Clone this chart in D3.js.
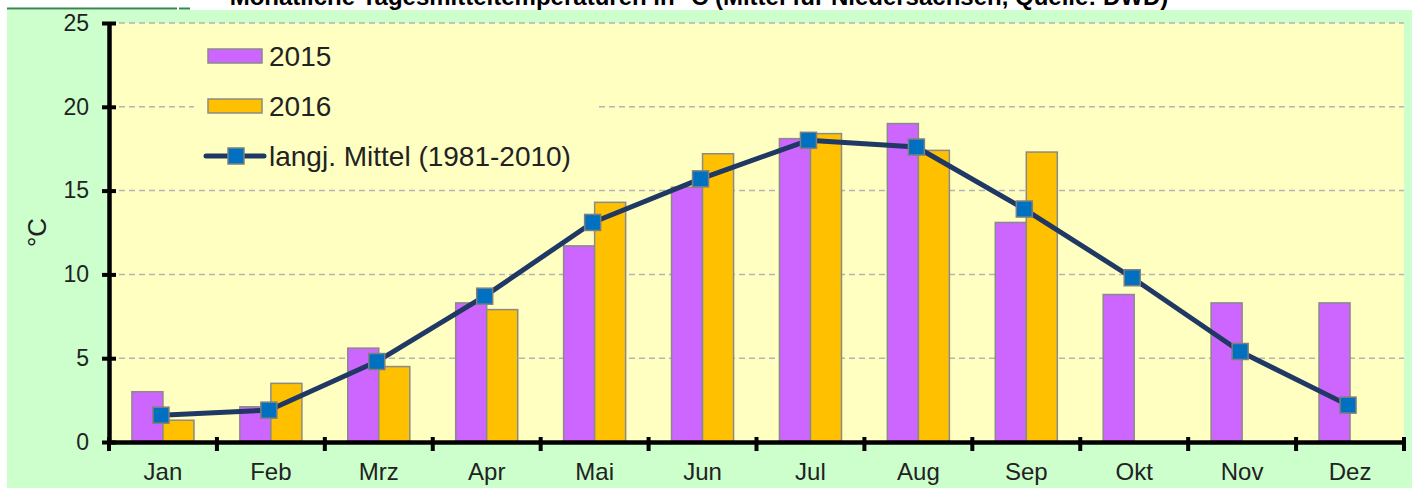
<!DOCTYPE html>
<html lang="de">
<head>
    <meta charset="UTF-8">
    <title>Monatliche Tagesmitteltemperaturen</title>
    <script src="https://d3js.org/d3.v7.min.js"></script>
    <style>
        body {
            margin: 0;
            background: #fff;
            font-family: Arial, "Liberation Sans", sans-serif;
        }
        .grid line {
            stroke: #b4b4b4;
            stroke-width: 1.5;
            stroke-dasharray: 6 4;
        }
        .axis path, .axis line {
            stroke: #000;
        }
        .axis text {
            fill: #222;
            font-family: Arial, "Liberation Sans", sans-serif;
        }
    </style>
</head>
<body>
    <div id="chart"></div>
    <script>
        // Werte
        const months = ["Jan", "Feb", "Mrz", "Apr", "Mai", "Jun", "Jul", "Aug", "Sep", "Okt", "Nov", "Dez"];
        const seriesNames = ["2015", "2016"];
        const temp2015 = [3.0, 2.1, 5.6, 8.3, 11.7, 15.2, 18.1, 19.0, 13.1, 8.8, 8.3, 8.3];
        const temp2016 = [1.3, 3.5, 4.5, 7.9, 14.3, 17.2, 18.4, 17.4, 17.3, null, null, null];
        const mittel = [1.6, 1.9, 4.8, 8.7, 13.1, 15.7, 18.0, 17.6, 13.9, 9.8, 5.4, 2.2];
        const mittelName = "langj. Mittel (1981-2010)";
        const yTicks = [0, 5, 10, 15, 20, 25];
        const title = "Monatliche Tagesmitteltemperaturen in °C (Mittel für Niedersachsen, Quelle: DWD)";

        const colors = { "2015": "#cc66ff", "2016": "#ffc000" };

        const W = 1418, H = 488;
        const plot = { left: 109, right: 1404, top: 23, bottom: 442 };

        const svg = d3.select("#chart")
            .append("svg")
            .attr("width", W)
            .attr("height", H);

        // Hintergrund
        svg.append("rect")
            .attr("x", 7).attr("y", 10)
            .attr("width", 1405).attr("height", H - 10)
            .attr("fill", "#ccffcc");

        svg.append("rect")
            .attr("x", 7).attr("y", 7.5)
            .attr("width", 170).attr("height", 2)
            .attr("fill", "#2f8a4c");
        svg.append("rect")
            .attr("x", 179).attr("y", 7.5)
            .attr("width", 11).attr("height", 2)
            .attr("fill", "#2f8a4c");

        svg.append("text")
            .attr("x", 699)
            .attr("y", 4.5)
            .attr("text-anchor", "middle")
            .style("font-size", "24px")
            .style("font-weight", "bold")
            .attr("fill", "#000")
            .text(title);

        svg.append("rect")
            .attr("x", plot.left).attr("y", plot.top)
            .attr("width", plot.right - plot.left)
            .attr("height", plot.bottom - plot.top)
            .attr("fill", "#ffffc2");

        const x = d3.scaleBand()
            .domain(months)
            .range([plot.left, plot.right])
            .padding(0);

        const groupW = x.bandwidth() * 0.575;
        const xSub = d3.scaleBand()
            .domain(seriesNames)
            .range([(x.bandwidth() - groupW) / 2, (x.bandwidth() + groupW) / 2])
            .padding(0);

        const y = d3.scaleLinear()
            .domain([0, 25])
            .range([plot.bottom, plot.top]);

        // Gitterlinien
        svg.append("g")
            .attr("class", "grid")
            .selectAll("line")
            .data(yTicks.filter(d => d > 0))
            .join("line")
            .attr("x1", plot.left)
            .attr("x2", plot.right)
            .attr("y1", d => y(d))
            .attr("y2", d => y(d));

        // Balken
        const barData = [];
        months.forEach((m, i) => {
            barData.push({ month: m, series: "2015", value: temp2015[i] });
            barData.push({ month: m, series: "2016", value: temp2016[i] });
        });

        svg.append("g")
            .selectAll("rect")
            .data(barData.filter(d => d.value != null))
            .join("rect")
            .attr("x", d => x(d.month) + xSub(d.series))
            .attr("y", d => y(d.value))
            .attr("width", xSub.bandwidth())
            .attr("height", d => y(0) - y(d.value))
            .attr("fill", d => colors[d.series])
            .attr("stroke", "#8a8a8a")
            .attr("stroke-width", 1.5);

        // Achsen
        const yAxis = svg.append("g")
            .attr("class", "axis")
            .attr("transform", `translate(${plot.left},0)`)
            .call(d3.axisLeft(y).tickValues(yTicks).tickSize(7).tickSizeOuter(0).tickPadding(12));
        yAxis.select(".domain").attr("stroke-width", 4.5);
        yAxis.selectAll(".tick line").attr("x2", -7).attr("x1", 7).attr("stroke-width", 4);
        yAxis.selectAll(".tick text").style("font-size", "23px").attr("x", -20);

        const xAxis = svg.append("g")
            .attr("class", "axis")
            .attr("transform", `translate(0,${plot.bottom})`)
            .call(d3.axisBottom(x).tickSize(0).tickSizeOuter(0).tickPadding(21));
        xAxis.select(".domain").attr("stroke-width", 4.5);
        xAxis.selectAll(".tick text").style("font-size", "24px");

        const bounds = months.map(m => x(m)).concat([x.range()[1]]);
        svg.append("g")
            .selectAll("line")
            .data(bounds)
            .join("line")
            .attr("x1", d => d).attr("x2", d => d)
            .attr("y1", plot.bottom - 5)
            .attr("y2", plot.bottom + 9)
            .attr("stroke", "#000")
            .attr("stroke-width", 4);

        svg.append("text")
            .attr("transform", `translate(46,${(plot.top + plot.bottom) / 2}) rotate(-90)`)
            .attr("text-anchor", "middle")
            .style("font-size", "26px")
            .attr("fill", "#222")
            .text("°C");

        // Linie langj. Mittel
        const line = d3.line()
            .x((d, i) => x(months[i]) + x.bandwidth() / 2 - 2)
            .y(d => y(d));

        svg.append("path")
            .datum(mittel)
            .attr("d", line)
            .attr("fill", "none")
            .attr("stroke", "#1f3864")
            .attr("stroke-width", 5)
            .attr("stroke-linejoin", "round");

        svg.append("g")
            .selectAll("rect")
            .data(mittel)
            .join("rect")
            .attr("x", (d, i) => x(months[i]) + x.bandwidth() / 2 - 2 - 8)
            .attr("y", d => y(d) - 8)
            .attr("width", 16)
            .attr("height", 16)
            .attr("fill", "#0070c0")
            .attr("stroke", "#7f7f7f")
            .attr("stroke-width", 1.5);

        // Legende
        const legend = svg.append("g");
        legend.append("rect")
            .attr("x", 194).attr("y", 30)
            .attr("width", 404).attr("height", 150)
            .attr("fill", "#ffffc2");

        const legendItems = seriesNames.concat([mittelName]);
        const ly = d3.scalePoint().domain(legendItems).range([56, 156]);

        legendItems.forEach(name => {
            const cy = ly(name);
            if (colors[name]) {
                legend.append("rect")
                    .attr("x", 208).attr("y", cy - 7)
                    .attr("width", 54).attr("height", 14)
                    .attr("fill", colors[name])
                    .attr("stroke", "#8a8a8a")
                    .attr("stroke-width", 1.5);
            } else {
                legend.append("line")
                    .attr("x1", 206).attr("x2", 264)
                    .attr("y1", cy).attr("y2", cy)
                    .attr("stroke", "#1f3864")
                    .attr("stroke-width", 5)
                    .attr("stroke-linecap", "round");
                legend.append("rect")
                    .attr("x", 228).attr("y", cy - 8)
                    .attr("width", 16).attr("height", 16)
                    .attr("fill", "#0070c0")
                    .attr("stroke", "#7f7f7f")
                    .attr("stroke-width", 1.5);
            }
            legend.append("text")
                .attr("x", 269)
                .attr("y", cy + 9.5)
                .style("font-size", "28px")
                .attr("fill", "#222")
                .text(name);
        });
    </script>
</body>
</html>
